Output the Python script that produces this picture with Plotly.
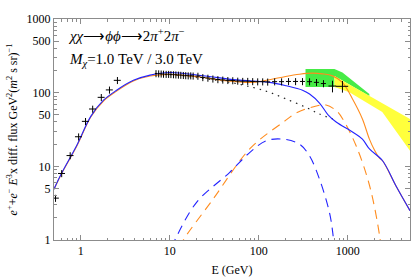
import plotly.graph_objects as go

# ---------------- data ----------------
# low-energy e+e- data (crosses)
lowE_E = [0.52, 0.61, 0.76, 0.945, 1.13, 1.36, 1.70, 2.10, 2.58]
lowE_F = [3.7, 8.0, 14.0, 25.2, 40.8, 60.0, 86.4, 109, 147]

# Fermi-LAT data (crosses)
fermi_E = [7.0, 7.5, 8.0, 8.5, 9.1, 9.7, 10.3, 11.0, 11.7, 12.5, 13.3, 14.2, 15.1, 16.1, 17.2, 18.3,
           20.7, 23.5, 26.8, 30.5, 34.7, 39.4, 44.9, 51.0, 58.0, 66.0, 75.1, 85.4, 97.2, 110.6, 125.9,
           150.8, 180.4, 216, 259, 310, 372, 445, 533, 673, 871]
fermi_F = [182, 181, 180, 179, 178, 178, 177, 176, 175, 174, 173, 172, 171, 170, 170, 169,
           168, 161, 158, 154, 151, 149, 147, 146, 144, 143, 143, 142, 141, 141, 140,
           141, 141, 142, 142, 142, 141, 138, 133, 123, 122]
fermi_relerr_y = [0.11] * 39 + [0.18, 0.18]
fermi_relerr_x = [0.03] * 16 + [0.065] * 23 + [0.10, 0.16]

# total flux, M = 3 TeV (orange) and M = 1 TeV (blue)
tot3_E = [0.5, 0.6, 0.9, 1.3, 1.8, 2.5, 3.9, 6.0, 10, 23.5, 39.5, 85, 132, 200, 287, 400, 520, 673,
          870, 1130, 1460, 1750, 2000, 2260, 2460, 3470, 5000]
tot3_F = [4.9, 7.7, 18.7, 47, 77, 104, 144, 168, 177, 161, 147, 138, 150, 166, 178, 184, 180, 169,
          138, 82, 44, 23.4, 16.5, 13.0, 11.9, 5.45, 2.5]
tot1_E = [0.5, 0.6, 0.9, 1.3, 1.8, 2.5, 3.9, 6.0, 10, 23.5, 56, 132, 204, 310, 372, 481, 600, 740,
          1130, 1460, 1750, 2460, 3470, 5000]
tot1_F = [4.9, 7.8, 19.2, 48, 79, 107, 147, 173, 188, 170, 149, 138, 124, 108, 95.7, 72.3, 50, 39.9,
          29.2, 23.4, 17.2, 11.9, 5.45, 2.5]

# background (dotted)
bkg_E = [10, 21.8, 47.2, 85.4, 132, 203, 340, 481, 680]
bkg_F = [176, 158, 138, 118, 101, 82, 63, 51.3, 43.9]

# signal only (dashed)
sig3_E = [13, 14.2, 30.7, 80, 187, 264, 442, 570, 742, 877, 1240, 1758, 2277, 2450]
sig3_F = [0.8, 1.0, 3.6, 17.5, 39.5, 53, 66, 68, 57, 44, 19, 5.45, 1.14, 0.5]
sig1_E = [10.5, 11.4, 20, 47.2, 79.5, 122, 187, 287, 371, 481, 622, 677, 700]
sig1_F = [0.8, 1.0, 3.25, 8.3, 15.5, 22.3, 23.4, 20, 13.9, 6.7, 2.37, 1.27, 0.8]

# H.E.S.S. bands
green_E = [335, 708, 871, 1746, 1746, 708, 708, 335]
green_F = [209, 209, 188, 95.7, 89.9, 168, 119, 119]
yellow_E = [708, 1746, 5000, 5000, 2440, 1042, 708]
yellow_F = [168, 89.9, 43.8, 16.3, 54.6, 101, 119]

x_tickvals = [1, 10, 100, 1000]
x_ticktext = ["1", "10", "100", "1000"]
y_tickvals = [1, 5, 10, 50, 100, 500, 1000]
y_ticktext = ["1", "5", "10", "50", "100", "500", "1000"]

# ---------------- figure ----------------
ORANGE = "rgb(255,140,30)"
BLUE = "rgb(35,35,255)"
AXC = "#8c8c8c"
FONT = "Times New Roman"

fig = go.Figure()

fig.add_trace(go.Scatter(x=green_E, y=green_F, fill="toself", mode="lines",
                         line=dict(width=0, color="rgb(70,235,70)"),
                         fillcolor="rgb(70,235,70)", hoverinfo="skip"))
fig.add_trace(go.Scatter(x=yellow_E, y=yellow_F, fill="toself", mode="lines",
                         line=dict(width=0, color="rgb(255,255,60)"),
                         fillcolor="rgb(255,255,60)", hoverinfo="skip"))

fig.add_trace(go.Scatter(x=bkg_E, y=bkg_F, mode="lines", line_shape="spline",
                         line=dict(color="#222", width=1.2, dash="1.5px,5px")))
fig.add_trace(go.Scatter(x=sig3_E, y=sig3_F, mode="lines", line_shape="spline",
                         line=dict(color=ORANGE, width=1.1, dash="9px,6px")))
fig.add_trace(go.Scatter(x=sig1_E, y=sig1_F, mode="lines", line_shape="spline",
                         line=dict(color=BLUE, width=1.1, dash="9px,6px")))
fig.add_trace(go.Scatter(x=tot3_E, y=tot3_F, mode="lines", line_shape="spline",
                         line=dict(color=ORANGE, width=1.1)))
fig.add_trace(go.Scatter(x=tot1_E, y=tot1_F, mode="lines", line_shape="spline",
                         line=dict(color=BLUE, width=1.1)))

fig.add_trace(go.Scatter(
    x=lowE_E, y=lowE_F, mode="markers", marker=dict(size=0.1, color="black"),
    error_x=dict(type="percent", value=9, color="black", thickness=1, width=0),
    error_y=dict(type="percent", value=11, color="black", thickness=1, width=0)))
fig.add_trace(go.Scatter(
    x=fermi_E, y=fermi_F, mode="markers", marker=dict(size=0.1, color="black"),
    error_x=dict(type="data", array=[e * r for e, r in zip(fermi_E, fermi_relerr_x)],
                 color="black", thickness=1, width=0),
    error_y=dict(type="data", array=[f * r for f, r in zip(fermi_F, fermi_relerr_y)],
                 color="black", thickness=1, width=0)))

def minor_vals(lo_dec, hi_dec, lo, hi):
    out = []
    for d in range(lo_dec, hi_dec + 1):
        for m in range(2, 10):
            v = m * 10 ** d
            if lo <= v <= hi:
                out.append(v)
    return out

x_minor = [0.6, 0.7, 0.8, 0.9] + minor_vals(0, 3, 1, 5000)
y_minor = [v for v in minor_vals(0, 2, 1, 1000) if v not in y_tickvals]

fig.update_xaxes(type="log", range=[-0.30103, 3.69897], showgrid=False, zeroline=False,
                 automargin=False,
                 showline=True, linecolor=AXC, linewidth=1, mirror="allticks",
                 ticks="inside", ticklen=5, tickcolor=AXC, tickwidth=1,
                 tickvals=x_tickvals, ticktext=x_ticktext,
                 tickfont=dict(family=FONT, size=12, color="black"),
                 minor=dict(tickvals=x_minor, ticks="inside", ticklen=2.5, tickcolor=AXC, showgrid=False),
                 title=dict(text="E (GeV)", font=dict(family=FONT, size=12, color="black"), standoff=8))
fig.update_yaxes(type="log", range=[0, 3], showgrid=False, zeroline=False,
                 automargin=False,
                 showline=True, linecolor=AXC, linewidth=1, mirror="allticks",
                 ticks="inside", ticklen=5, tickcolor=AXC, tickwidth=1,
                 tickvals=y_tickvals, ticktext=y_ticktext,
                 tickfont=dict(family=FONT, size=12, color="black"),
                 minor=dict(tickvals=y_minor, ticks="inside", ticklen=2.5, tickcolor=AXC, showgrid=False),
                 title=dict(text="<i>e</i><sup>+</sup>+<i>e</i><sup>−</sup> <i>E</i><sup>3</sup>x diff. flux GeV<sup>2</sup>(<i>m</i><sup>2</sup> s sr)<sup>−1</sup>",
                            font=dict(family=FONT, size=12, color="black"), standoff=6))

fig.add_annotation(xref="paper", yref="paper", x=0.035, y=0.928, xanchor="left", yanchor="middle",
                   showarrow=False,
                   text="<i>χχ</i>⟶<i>ϕϕ</i>⟶2<i>π</i><sup>+</sup>2<i>π</i><sup>−</sup>",
                   font=dict(family=FONT, size=15, color="black"))
fig.add_annotation(xref="paper", yref="paper", x=0.037, y=0.815, xanchor="left", yanchor="middle",
                   showarrow=False,
                   text="<i>M</i><sub><i>χ</i></sub>=1.0 TeV / 3.0 TeV",
                   font=dict(family=FONT, size=15, color="black"))

fig.update_layout(template="none", width=415, height=280, margin=dict(l=54, r=5, t=19, b=40),
                  plot_bgcolor="white", paper_bgcolor="white", showlegend=False,
                  hovermode=False)

fig.write_html("out.html", config={"displayModeBar": False, "staticPlot": True},
               post_script="document.body.style.margin='0';document.body.style.padding='0';")
